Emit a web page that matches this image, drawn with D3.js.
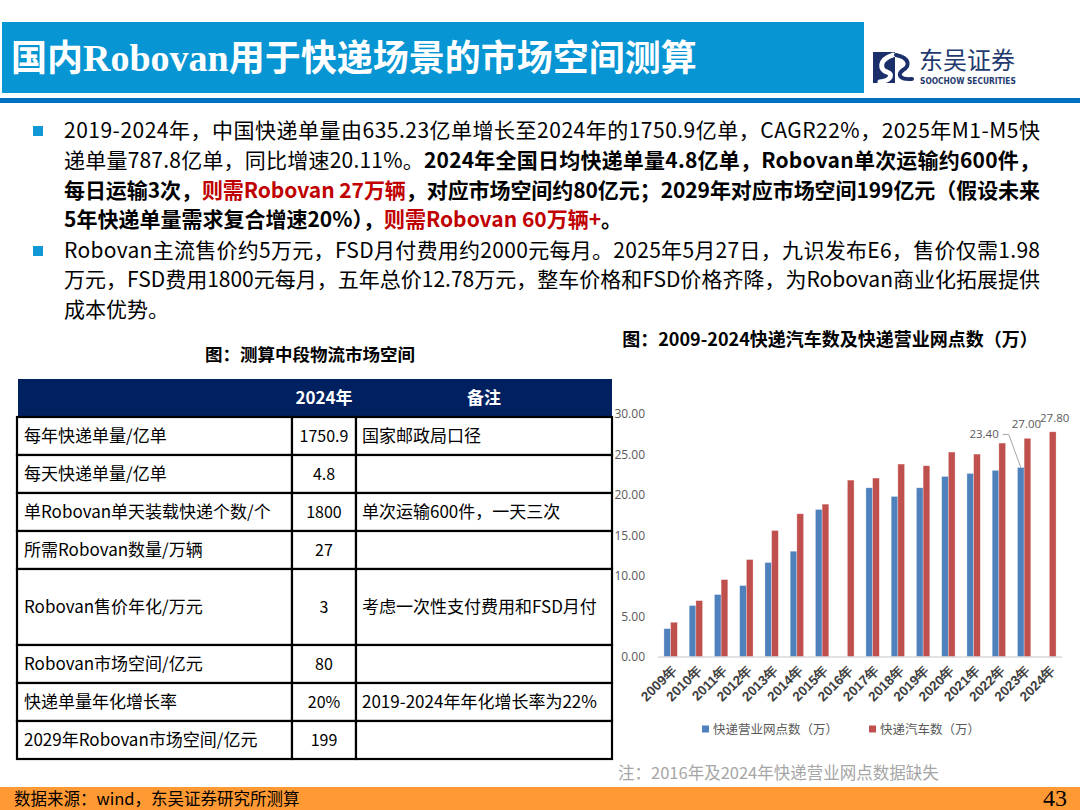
<!DOCTYPE html>
<html>
<head>
<meta charset="utf-8">
<script src="https://cdn.jsdelivr.net/npm/d3@7/dist/d3.min.js"></script>
<style>
  body { margin: 0; background: #fff; }
  svg { display: block; font-family: "Noto Sans CJK SC", "Noto Sans", sans-serif; }
</style>
</head>
<body>
<svg id="page" width="1080" height="810"></svg>
<script>
// chart data
const categories = ["2009年", "2010年", "2011年", "2012年", "2013年", "2014年", "2015年", "2016年",
  "2017年", "2018年", "2019年", "2020年", "2021年", "2022年", "2023年", "2024年"];
const outletValues = [3.50, 6.35, 7.71, 8.82, 11.66, 13.06, 18.21, null, 20.89, 19.82, 20.89, 22.29, 22.66, 23.04, 23.40, null];
const truckValues = [4.29, 6.96, 9.56, 12.03, 15.62, 17.68, 18.87, 21.84, 22.09, 23.82, 23.61, 25.30, 25.05, 26.41, 27.00, 27.80];
const seriesNames = ["快递营业网点数（万）", "快递汽车数（万）"];
const yTicks = [0, 5, 10, 15, 20, 25, 30];
const labelled = [[0, "2023年"], [1, "2023年"], [1, "2024年"]];

// table data
const tableHeader = ["", "2024年", "备注"];
const tableItems = ["每年快递单量/亿单", "每天快递单量/亿单", "单Robovan单天装载快递个数/个", "所需Robovan数量/万辆",
  "Robovan售价年化/万元", "Robovan市场空间/亿元", "快递单量年化增长率", "2029年Robovan市场空间/亿元"];
const tableValues = ["1750.9", "4.8", "1800", "27", "3", "80", "20%", "199"];
const tableNotes = ["国家邮政局口径", "", "单次运输600件，一天三次", "", "考虑一次性支付费用和FSD月付", "", "2019-2024年年化增长率为22%", ""];

const svg = d3.select("#page");
const BLUE = "#4f81bd", RED = "#c0504d", DARKRED = "#c00000";

// ---- header ----
svg.append("rect").attr("x", 2).attr("y", 22).attr("width", 862).attr("height", 71).attr("fill", "#0795d3");
const title = svg.append("text").attr("x", 11).attr("y", 71).attr("fill", "#fff")
  .attr("font-size", 36).attr("font-weight", 700);
title.append("tspan").text("国内");
title.append("tspan").attr("font-family", "'Liberation Serif', serif").attr("font-size", 38).text("Robovan");
title.append("tspan").text("用于快递场景的市场空间测算");
svg.append("rect").attr("x", 0).attr("y", 98).attr("width", 1080).attr("height", 5).attr("fill", "#0070c0");

// logo
const logo = svg.append("g");
logo.append("rect").attr("x", 873).attr("y", 52).attr("width", 22).attr("height", 31).attr("fill", "#1b2f6b");
logo.append("path").attr("d", "M893,55 C878,60 880,70 887,72 C893,74 892,80 880,82")
  .attr("fill", "none").attr("stroke", "#fff").attr("stroke-width", 5).attr("stroke-linecap", "round");
logo.append("path").attr("d", "M896,55 C910,58 910,66 903,70 C897,74 899,80 912,79")
  .attr("fill", "none").attr("stroke", "#1b2f6b").attr("stroke-width", 4).attr("stroke-linecap", "round");
logo.append("text").attr("x", 919).attr("y", 69).attr("font-size", 24).attr("fill", "#1f3a6e").text("东吴证券");
logo.append("text").attr("x", 920).attr("y", 84).attr("font-size", 8.3).attr("font-weight", 700)
  .attr("fill", "#1f3a6e").attr("font-family", "'DejaVu Sans Condensed', sans-serif").text("SOOCHOW SECURITIES");

// ---- bullet text ----
const lines = [
  { y: 138, fit: true, parts: [["2019-2024年，中国快递单量由635.23亿单增长至2024年的1750.9亿单，CAGR22%，2025年M1-M5快", 0]] },
  { y: 168, fit: true, parts: [["递单量787.8亿单，同比增速20.11%。", 0], ["2024年全国日均快递单量4.8亿单，Robovan单次运输约600件，", 1]] },
  { y: 198, fit: true, parts: [["每日运输3次，", 1], ["则需Robovan 27万辆", 2], ["，对应市场空间约80亿元；2029年对应市场空间199亿元（假设未来", 1]] },
  { y: 227, fit: false, parts: [["5年快递单量需求复合增速20%），", 1], ["则需Robovan 60万辆+", 2], ["。", 1]] },
  { y: 258, fit: true, parts: [["Robovan主流售价约5万元，FSD月付费用约2000元每月。2025年5月27日，九识发布E6，售价仅需1.98", 0]] },
  { y: 287, fit: true, parts: [["万元，FSD费用1800元每月，五年总价12.78万元，整车价格和FSD价格齐降，为Robovan商业化拓展提供", 0]] },
  { y: 317, fit: false, parts: [["成本优势。", 0]] }
];
[126, 246].forEach(y => svg.append("rect").attr("x", 33).attr("y", y).attr("width", 10).attr("height", 10).attr("fill", "#0f97d6"));
lines.forEach(l => {
  const t = svg.append("text").attr("x", 64).attr("y", l.y).attr("font-size", 21).attr("fill", "#000");
  if (l.fit) t.attr("textLength", 976).attr("lengthAdjust", "spacing");
  l.parts.forEach(p => {
    t.append("tspan").text(p[0])
      .attr("font-weight", p[1] ? 700 : 400)
      .attr("fill", p[1] === 2 ? DARKRED : "#000");
  });
});

// ---- table ----
svg.append("text").attr("x", 310).attr("y", 361).attr("text-anchor", "middle")
  .attr("font-size", 17.5).attr("font-weight", 700).text("图：测算中段物流市场空间");

const colX = [17, 292, 356, 612];
const rowH = 38;
const rowUnits = tableItems.map((d, i) => i === 4 ? 2 : 1);
const rowY = [];
let acc = 417;
rowUnits.forEach(u => { rowY.push(acc); acc += u * rowH; });

svg.append("rect").attr("x", 18).attr("y", 379).attr("width", 594).attr("height", 38).attr("fill", "#002060");
tableHeader.forEach((h, c) => {
  if (!h) return;
  svg.append("text").attr("x", (colX[c] + colX[c + 1]) / 2).attr("y", 404).attr("text-anchor", "middle")
    .attr("font-size", 17).attr("font-weight", 700).attr("fill", "#fff").text(h);
});

const rows = svg.append("g").selectAll("g").data(tableItems).join("g")
  .attr("transform", (d, i) => `translate(0,${rowY[i]})`);
[0, 1, 2].forEach(c => {
  rows.append("rect").attr("x", colX[c]).attr("y", 0)
    .attr("width", colX[c + 1] - colX[c]).attr("height", (d, i) => rowUnits[i] * rowH)
    .attr("fill", "#fff").attr("stroke", "#000").attr("stroke-width", 2.2);
});
const rowMid = i => rowUnits[i] * rowH / 2 + 6;
rows.append("text").attr("x", 24).attr("y", (d, i) => rowMid(i)).attr("font-size", 17).text(d => d);
rows.append("text").attr("x", (colX[1] + colX[2]) / 2).attr("y", (d, i) => rowMid(i)).attr("text-anchor", "middle")
  .attr("font-size", 16).text((d, i) => tableValues[i]);
rows.append("text").attr("x", 362).attr("y", (d, i) => rowMid(i)).attr("font-size", 17).text((d, i) => tableNotes[i]);

// ---- bar chart ----
svg.append("text").attr("x", 830).attr("y", 346).attr("text-anchor", "middle")
  .attr("font-size", 18).attr("font-weight", 700).text("图：2009-2024快递汽车数及快递营业网点数（万）");

const x = d3.scaleBand().domain(categories).range([658, 1062]).paddingInner(0.47).paddingOuter(0.235);
const xs = d3.scaleBand().domain([0, 1]).range([0, x.bandwidth()]);
const y = d3.scaleLinear().domain([0, 30]).range([657, 414]);

const yAxis = svg.append("g").attr("transform", "translate(646,0)")
  .call(d3.axisLeft(y).tickValues(yTicks).tickFormat(d3.format(".2f")).tickSize(0).tickPadding(1));
yAxis.select(".domain").remove();
yAxis.selectAll("text").attr("font-size", 12).attr("fill", "#595959").attr("font-family", "'Open Sans', sans-serif");

const series = [outletValues, truckValues];
const colors = [BLUE, RED];
series.forEach((vals, s) => {
  svg.append("g").selectAll("rect")
    .data(categories.map((c, i) => ({ c, v: vals[i] })).filter(d => d.v != null))
    .join("rect")
    .attr("x", d => x(d.c) + xs(s))
    .attr("y", d => y(d.v))
    .attr("width", xs.bandwidth())
    .attr("height", d => y(0) - y(d.v))
    .attr("fill", colors[s])
    .attr("stroke", "#fff").attr("stroke-opacity", 0.5).attr("stroke-width", 0.6);
});

svg.append("line").attr("x1", 658).attr("x2", 1062).attr("y1", y(0)).attr("y2", y(0))
  .attr("stroke", "#d9d9d9").attr("stroke-width", 1.3);

const xAxis = svg.append("g").attr("transform", `translate(0,${y(0)})`)
  .call(d3.axisBottom(x).tickSize(0).tickPadding(0));
xAxis.select(".domain").remove();
xAxis.selectAll("text")
  .attr("font-size", 13.5).attr("font-weight", 700).attr("fill", "#404040")
  .attr("text-anchor", "end").attr("dy", 0)
  .attr("transform", "translate(7,14) rotate(-45)");

// data labels
labelled.forEach(([s, c]) => {
  const v = series[s][categories.indexOf(c)];
  const cx = x(c) + xs(s) + xs.bandwidth() / 2;
  const g = svg.append("g").attr("font-size", 11.5).attr("fill", "#595959").attr("font-family", "'Open Sans', sans-serif");
  if (s === 0) {
    const ly = y(v) - 33;
    svg.append("polyline").attr("points", [[cx, y(v)], [cx - 12, ly], [cx - 18, ly]].map(p => p.join(",")).join(" "))
      .attr("fill", "none").attr("stroke", "#a6a6a6").attr("stroke-width", 1);
    g.append("text").attr("x", cx - 22).attr("y", ly + 4).attr("text-anchor", "end").text(d3.format(".2f")(v));
  } else {
    g.append("text").attr("x", cx + (c === "2024年" ? 2 : -1)).attr("y", y(v) - 10).attr("text-anchor", "middle").text(d3.format(".2f")(v));
  }
});

// legend
const legend = svg.append("g").selectAll("g").data(seriesNames).join("g")
  .attr("transform", (d, i) => `translate(${[702, 869][i]},724)`);
legend.append("rect").attr("width", 7).attr("height", 7).attr("y", 1.5).attr("fill", (d, i) => colors[i]);
legend.append("text").attr("x", 11).attr("y", 10).attr("font-size", 12.5).attr("fill", "#595959").text(d => d);

svg.append("text").attr("x", 618).attr("y", 779).attr("font-size", 16.5).attr("fill", "#a6a6a6")
  .text("注：2016年及2024年快递营业网点数据缺失");

// ---- footer ----
svg.append("rect").attr("x", 0).attr("y", 787).attr("width", 1080).attr("height", 23).attr("fill", "#ff9933");
svg.append("text").attr("x", 14).attr("y", 805).attr("font-size", 16.5).attr("fill", "#000").text("数据来源：wind，东吴证券研究所测算");
svg.append("text").attr("x", 1067).attr("y", 806).attr("text-anchor", "end").attr("font-size", 24)
  .attr("font-family", "'Liberation Serif', serif").attr("fill", "#000").text("43");
</script>
</body>
</html>
